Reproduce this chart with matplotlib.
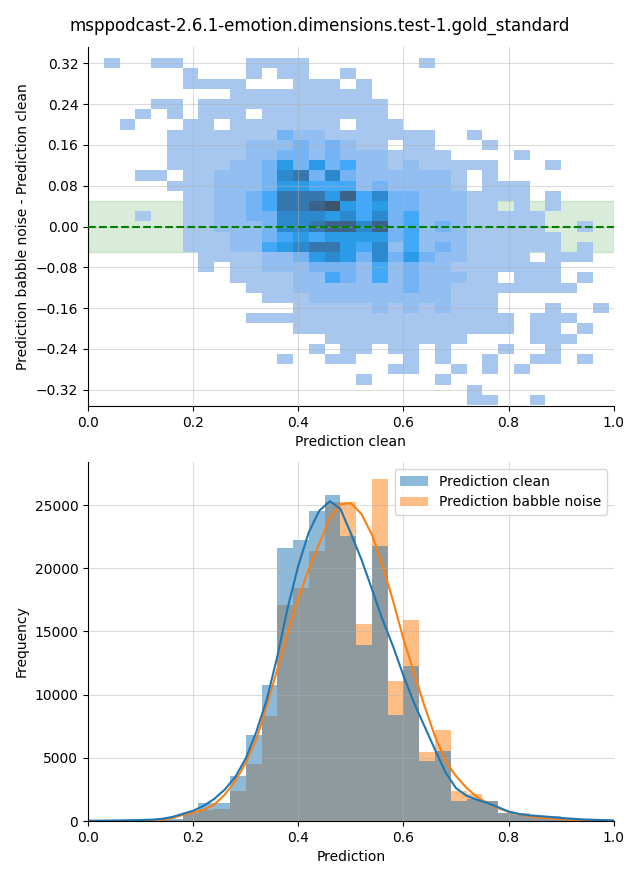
import numpy as np
import matplotlib
import matplotlib.pyplot as plt
from matplotlib.colors import ListedColormap, to_rgba
from matplotlib.patches import Patch
from seaborn.external import husl

plt.switch_backend('Agg')

title = "msppodcast-2.6.1-emotion.dimensions.test-1.gold_standard"

# 2D histogram of (clean, babble - clean): relative density level per cell
# rows from top (y 0.31..0.33) to bottom (y -0.35..-0.33), 33 columns of 0.03 from x=0
density_rows = [
    "0100110000 1111000000 0100000000 000",
    "0000001000 1011001000 0000000000 000",
    "0000001111 0001110100 0000000000 000",
    "0000000001 1111111100 0000000000 000",
    "0000110111 1111111110 0000000000 000",
    "0001010111 0111111110 0000000000 000",
    "0010001101 1111110111 0000000000 000",
    "0000011111 1132211111 1100100000 000",
    "0000011111 2223232110 1100010000 000",
    "0000011111 2233232221 1110000100 000",
    "0000011112 2353534221 2111110001 000",
    "0001101122 2367363222 2221010000 000",
    "0000011122 2355444232 2221011100 000",
    "0000001122 3477758463 3222111101 000",
    "0000001122 3477895453 3222110101 000",
    "0001001122 3366656463 4222111110 000",
    "0000001122 2366788683 4232111110 010",
    "0000001112 2345455553 4222111111 000",
    "0000001112 2456775462 4232111111 010",
    "0000000111 1223565363 5322111101 110",
    "0000000101 1222333242 3221111111 000",
    "0000000001 1112243242 3222110111 010",
    "0000000000 1112222222 3221111111 100",
    "0000000000 0111222222 2221110000 000",
    "0000000000 0001111121 2121110001 001",
    "0000000000 1111111111 1111111011 100",
    "0000000000 0001111111 1111111011 010",
    "0000000000 0000011111 1111000011 100",
    "0000000000 0000101101 1010001001 000",
    "0000000000 0010011000 1010010011 010",
    "0000000000 0000000001 1001010100 000",
    "0000000000 0000000100 0010000000 000",
    "0000000000 0000000000 0000100000 000",
    "0000000000 0000000000 0000110010 000",
]
level_values = [0, 0.02, 0.09, 0.17, 0.27, 0.37, 0.5, 0.63, 0.78, 0.9]

# 1D histograms, bins of 0.03 starting at 0.00
clean_counts = [15, 20, 30, 45, 80, 150, 740, 1400, 1450, 3600, 6770, 10740,
                21590, 22250, 24500, 25820, 22520, 13940, 21780, 8360, 12250,
                4740, 5580, 1560, 1750, 1600, 620, 500, 420, 370, 200, 120, 80]
babble_counts = [8, 10, 15, 25, 45, 100, 640, 900, 920, 2350, 4550, 8310,
                 17120, 18470, 21400, 25240, 25220, 15590, 27020, 11060, 15900,
                 5500, 7170, 2380, 2170, 1580, 620, 650, 300, 230, 120, 70, 40]

# kde curves read every 0.02 from 0 to 1
clean_kde = [20, 25, 35, 45, 60, 80, 110, 170, 320, 560, 820, 1200, 1750, 2480,
             3480, 4950, 7050, 9600, 13000, 16900, 20200, 22850, 24550, 25300,
             24700, 22750, 20700, 18350, 15950, 13850, 11500, 9350, 7500, 5650,
             3850, 2600, 2000, 1680, 1420, 1100, 750, 560, 450, 390, 320, 240,
             185, 130, 100, 75, 50]
babble_kde = [10, 12, 15, 20, 28, 40, 60, 100, 230, 480, 680, 900, 1300, 2080,
              3150, 4600, 6450, 9100, 12000, 14900, 17550, 19950, 21950, 23900,
              25050, 25150, 24300, 22650, 20250, 17450, 14400, 11750, 9100, 6700,
              4750, 3550, 2620, 1900, 1430, 1030, 720, 550, 380, 270, 210, 160,
              110, 80, 55, 35, 25]

y_ticks = [-0.32, -0.24, -0.16, -0.08, 0.0, 0.08, 0.16, 0.24, 0.32]


def cmap_from_color(color):
    # same ramp seaborn uses for bivariate histograms
    r, g, b, _ = to_rgba(color)
    h, s, _ = husl.rgb_to_husl(r, g, b)
    xx = np.linspace(-1, 1, int(1.15 * 256))[:256]
    ramp = np.zeros((256, 3))
    ramp[:, 0] = h
    ramp[:, 1] = s * np.cos(xx)
    ramp[:, 2] = np.linspace(35, 80, 256)
    colors = np.clip([husl.husl_to_rgb(*hsl) for hsl in ramp], 0, 1)
    return ListedColormap(colors[::-1])


blue = "#1f77b4"
orange = "#ff7f0e"
grid_kw = dict(color="#b0b0b0", alpha=0.45, linewidth=0.8)

fig, (ax1, ax2) = plt.subplots(2, 1, figsize=(6.4, 8.8))
plt.subplots_adjust(left=0.1375, right=0.959, top=0.9466, bottom=0.067, hspace=0.156)
fig.suptitle(title, y=0.9705, va="center", fontsize=12)

# top: bivariate histogram
levels = np.array([[int(ch) for ch in row.replace(" ", "")] for row in density_rows[::-1]])
values = np.ma.masked_equal(np.array(level_values)[levels], 0)
x_edges = np.round(np.arange(levels.shape[1] + 1) * 0.03, 2)
y_edges = np.round(-0.35 + np.arange(levels.shape[0] + 1) * 0.02, 2)

ax1.axhspan(-0.05, 0.05, color="green", alpha=0.15, zorder=0.5)
ax1.pcolormesh(x_edges, y_edges, values, cmap=cmap_from_color(blue),
               vmin=0, vmax=max(level_values), zorder=1)
ax1.axhline(0, color="green", linestyle="--", linewidth=1.5, zorder=3)
ax1.set_xlim(0, 1)
ax1.set_ylim(-0.352, 0.352)
ax1.set_yticks(y_ticks)
ax1.grid(True, **grid_kw)
ax1.set_xlabel("Prediction clean")
ax1.set_ylabel("Prediction babble noise - Prediction clean")

# bottom: layered histograms with kde
bin_width = 0.03
bin_starts = np.round(np.arange(len(clean_counts)) * bin_width, 2)
ax2.bar(bin_starts, babble_counts, width=bin_width, align="edge",
        color=orange, alpha=0.5, linewidth=0)
ax2.bar(bin_starts, clean_counts, width=bin_width, align="edge",
        color=blue, alpha=0.5, linewidth=0)
kde_x = np.linspace(0, 1, len(clean_kde))
ax2.plot(kde_x, babble_kde, color=orange, linewidth=1.5)
ax2.plot(kde_x, clean_kde, color=blue, linewidth=1.5)
ax2.set_xlim(0, 1)
ax2.set_ylim(0, 28400)
ax2.grid(True, **grid_kw)
ax2.set_xlabel("Prediction")
ax2.set_ylabel("Frequency")
handles = [Patch(facecolor=blue, alpha=0.5, label="Prediction clean"),
           Patch(facecolor=orange, alpha=0.5, label="Prediction babble noise")]
ax2.legend(handles=handles, loc="upper right")

for ax in (ax1, ax2):
    ax.spines["top"].set_visible(False)
    ax.spines["right"].set_visible(False)

plt.savefig("out.png", dpi=100)
plt.close()
